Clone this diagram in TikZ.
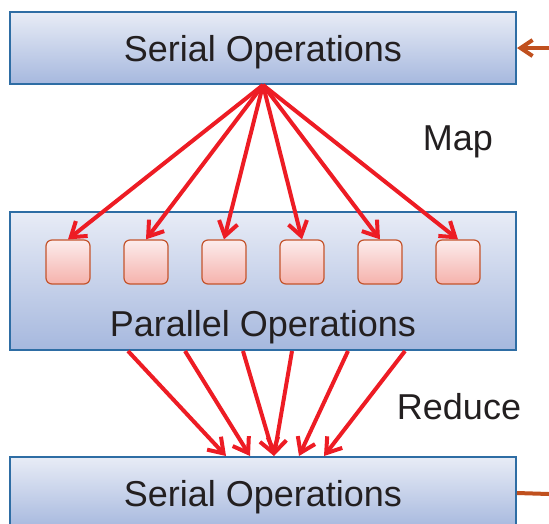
\documentclass[tikz,border=0pt]{standalone}
\usepackage{fontspec}
\setmainfont{Liberation Sans}
\usetikzlibrary{arrows.meta}
\definecolor{boxline}{RGB}{46,109,164}
\definecolor{boxtop}{RGB}{232,236,246}
\definecolor{boxbot}{RGB}{166,184,222}
\definecolor{cellline}{RGB}{196,84,44}
\definecolor{celltop}{RGB}{252,236,236}
\definecolor{cellbot}{RGB}{245,178,172}
\definecolor{flow}{RGB}{237,28,36}
\definecolor{link}{RGB}{192,80,30}
\definecolor{ink}{RGB}{35,31,32}
\tikzset{
  stage/.style={draw=boxline, line width=2pt, top color=boxtop, bottom color=boxbot,
    minimum width=506pt, inner sep=0pt, text=ink, text height=27pt, text depth=0pt,
    font=\fontsize{36}{40}\selectfont},
  cell/.style={draw=cellline, line width=1.2pt, rounded corners=6pt, top color=celltop,
    bottom color=cellbot, minimum size=44pt, inner sep=0pt},
  flowarrow/.style={draw=flow, line width=4pt, -{Straight Barb[length=14pt,width=19pt]}},
  linkline/.style={draw=link, line width=4pt},
  biglabel/.style={text=ink, font=\fontsize{36}{40}\selectfont}
}
\begin{document}
\begin{tikzpicture}[x=1pt,y=-1pt]
  \useasboundingbox (0,0) rectangle (549,523);
  \node [stage, minimum height=72pt] (top) at (263,48) {Serial Operations};
  \node [stage, minimum height=138pt] (mid) at (263,281) {};
  \node [biglabel] (partxt) at (263,327) {Parallel Operations};
  \node [stage, minimum height=72pt] (bot) at (263,493) {Serial Operations};
  \foreach \i in {1,...,6}
    \node [cell] (c\i) at ({68+78*(\i-1)},262) {};
  \foreach \i in {1,...,6}
    \draw [flowarrow] (top.south) -- (c\i.north);
  \foreach \a/\b in {-135/-37, -78/-13, -20/11, 29/11, 85/36, 142/61}
    \draw [flowarrow] ([xshift=\a pt]mid.south) -- ([xshift=\b pt]bot.north);
  \node [biglabel] (maplbl) at (458,142) {Map};
  \node [biglabel] (redlbl) at (459,407) {Reduce};
  \coordinate (inlet) at (549,48);
  \coordinate (outlet) at (549,494);
  \draw [linkline, -{Straight Barb[length=12pt,width=16pt]}] (inlet) -- (top.east);
  \draw [linkline] (bot.east) -- (outlet);
\end{tikzpicture}
\end{document}
